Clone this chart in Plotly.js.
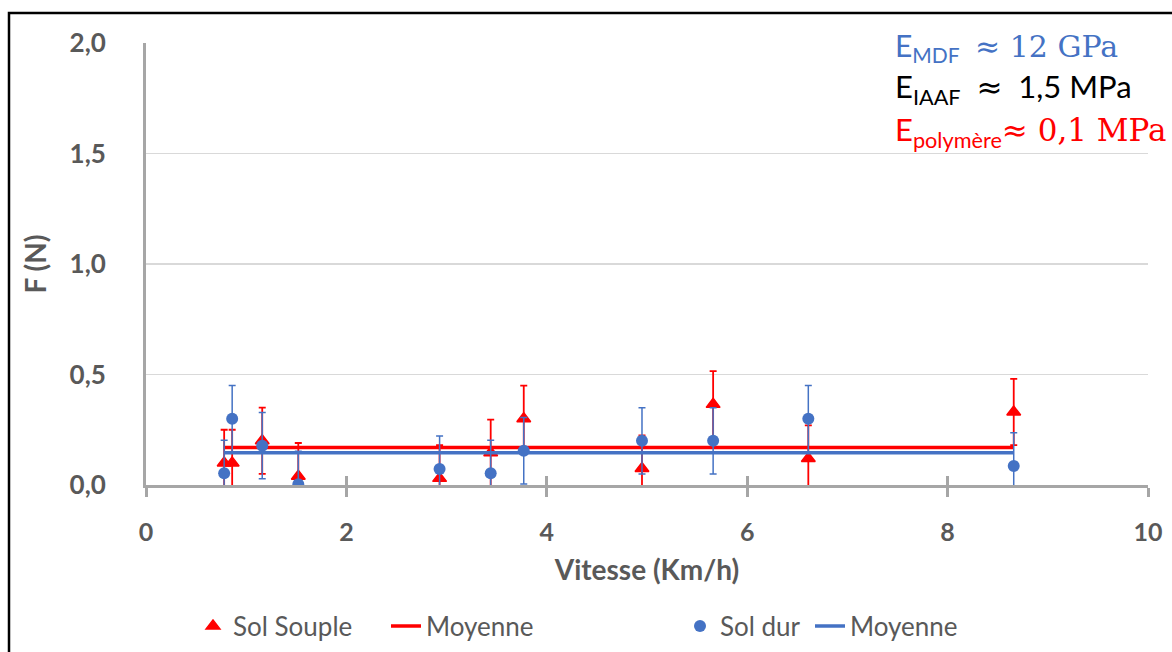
<!DOCTYPE html>
<html>
<head>
<meta charset="utf-8">
<script src="https://cdn.plot.ly/plotly-3.0.1.min.js"></script>
<style>html,body{margin:0;padding:0;background:#fff;}#chart{width:1172px;height:652px;}</style>
</head>
<body>
<div id="chart"></div>
<script>
// Data
const vitesse = [0.78, 0.86, 1.16, 1.52, 2.93, 3.44, 3.77, 4.95, 5.66, 6.61, 8.66];
const forceSouple = [0.10, 0.10, 0.20, 0.04, 0.03, 0.146, 0.30, 0.075, 0.365, 0.12, 0.33];
const forceDur = [0.053, 0.30, 0.178, 0.003, 0.072, 0.053, 0.155, 0.20, 0.20, 0.30, 0.086];
const erreurSouple = [0.15, 0.15, 0.15, 0.15, 0.15, 0.15, 0.15, 0.15, 0.15, 0.15, 0.15];
const erreurDur = [0.15, 0.15, 0.15, 0.15, 0.15, 0.15, 0.15, 0.15, 0.15, 0.15, 0.15];
const moyenneSouple = [0.17, 0.17, 0.17, 0.17, 0.17, 0.17, 0.17, 0.17, 0.17, 0.17, 0.17];
const moyenneDur = [0.146, 0.146, 0.146, 0.146, 0.146, 0.146, 0.146, 0.146, 0.146, 0.146, 0.146];
const xTicks = [0, 2, 4, 6, 8, 10];
const yTicks = [0, 0.5, 1.0, 1.5, 2.0];
const yTickLabels = ['0,0', '0,5', '1,0', '1,5', '2,0'];
const legendNames = ['Sol Souple', 'Moyenne', 'Sol dur', 'Moyenne'];

const RED = '#ff0000', BLUE = '#4472c4', GREY = '#595959', AXIS = '#a6a6a6';
const SANS = 'Lato, "Open Sans", sans-serif';

const traces = [
  {x: vitesse, y: forceSouple, type: 'scatter', mode: 'markers', name: legendNames[0], legend: 'legend',
   marker: {symbol: 'triangle-up', size: 12, color: RED, line: {color: RED, width: 1.5}},
   error_y: {type: 'data', array: erreurSouple, visible: true, color: RED, thickness: 1.8, width: 3.5}},
  {x: vitesse, y: moyenneSouple, type: 'scatter', mode: 'lines', name: legendNames[1], legend: 'legend2',
   line: {color: RED, width: 3.5}},
  {x: vitesse, y: forceDur, type: 'scatter', mode: 'markers', name: legendNames[2], legend: 'legend3',
   marker: {symbol: 'circle', size: 12, color: BLUE},
   error_y: {type: 'data', array: erreurDur, visible: true, color: BLUE, thickness: 1.5, width: 3.5}},
  {x: vitesse, y: moyenneDur, type: 'scatter', mode: 'lines', name: legendNames[3], legend: 'legend4',
   line: {color: BLUE, width: 3.5}},
  // helper trace for the inside half of the crossing tick marks
  {x: [null], y: [null], xaxis: 'x2', yaxis: 'y', showlegend: false, hoverinfo: 'skip'}
];

const L = 146, R = 24, T = 43, B = 167, W = 1172, H = 652;
const pw = W - L - R, ph = H - T - B;
const px2x = p => (p - L) / pw;
const py2y = p => (H - B - p) / ph;

function legendAt(xpx, ypx) {
  return {x: px2x(xpx), y: py2y(ypx), xanchor: 'left', yanchor: 'middle', orientation: 'h',
          font: {family: SANS, size: 26, color: GREY}, bgcolor: 'rgba(0,0,0,0)', borderwidth: 0,
          itemwidth: 30, tracegroupgap: 0};
}

const layout = {
  width: W, height: H,
  margin: {l: L, r: R, t: T, b: B, autoexpand: false},
  paper_bgcolor: '#fff', plot_bgcolor: '#fff',
  showlegend: true,
  legend: legendAt(193, 626),
  legend2: legendAt(386, 626),
  legend3: legendAt(680, 626),
  legend4: legendAt(810, 626),
  xaxis: {
    range: [0, 10], tickvals: xTicks, ticktext: xTicks.map(String), automargin: false,
    showgrid: false, zeroline: false,
    showline: true, linecolor: AXIS, linewidth: 3,
    ticks: 'outside', ticklen: 9, tickwidth: 3, tickcolor: AXIS,
    ticklabelstandoff: 14,
    tickfont: {family: SANS, size: 25, color: GREY, weight: 'bold'},
    title: {text: 'Vitesse (Km/h)', font: {family: SANS, size: 28, color: GREY, weight: 'bold'}, standoff: 16},
    fixedrange: true
  },
  xaxis2: {
    overlaying: 'x', anchor: 'y', matches: 'x', range: [0, 10], tickvals: xTicks, automargin: false,
    showticklabels: false, showgrid: false, zeroline: false, showline: false,
    ticks: 'inside', ticklen: 9, tickwidth: 3, tickcolor: AXIS
  },
  yaxis: {
    range: [0, 2], tickvals: yTicks, ticktext: yTickLabels, automargin: false,
    showgrid: true, gridcolor: '#d9d9d9', gridwidth: 1.3,
    zeroline: false, showline: true, linecolor: AXIS, linewidth: 3,
    ticks: '', ticklabelstandoff: 32,
    tickfont: {family: SANS, size: 26, color: GREY, weight: 'bold'},
    title: {text: 'F (N)', font: {family: SANS, size: 28, color: GREY, weight: 'bold'}, standoff: 15},
    fixedrange: true
  },
  shapes: [
    {type: 'rect', xref: 'paper', yref: 'paper', x0: px2x(9), y0: py2y(13), x1: 1.2, y1: -0.6,
     line: {color: '#000', width: 2.5}, fillcolor: 'rgba(0,0,0,0)', layer: 'below'}
  ],
  annotations: [
    {xref: 'paper', yref: 'paper', x: px2x(893), y: py2y(47), xanchor: 'left', yanchor: 'middle', showarrow: false,
     text: 'E<sub>MDF</sub>  <span style="font-family:DejaVu Serif">≈ 12 GPa</span>',
     font: {family: SANS, size: 30, color: BLUE}},
    {xref: 'paper', yref: 'paper', x: px2x(893), y: py2y(89), xanchor: 'left', yanchor: 'middle', showarrow: false,
     text: 'E<sub>IAAF</sub>  <span style="font-family:DejaVu Sans">≈</span>  1,5 MPa',
     font: {family: SANS, size: 31, color: '#000'}},
    {xref: 'paper', yref: 'paper', x: px2x(893), y: py2y(131), xanchor: 'left', yanchor: 'middle', showarrow: false,
     text: 'E<sub>polymère</sub><span style="font-family:DejaVu Serif">≈ 0,1 MPa</span>',
     font: {family: SANS, size: 31, color: RED}}
  ]
};

Plotly.newPlot('chart', traces, layout, {staticPlot: true, displayModeBar: false});
</script>
</body>
</html>
